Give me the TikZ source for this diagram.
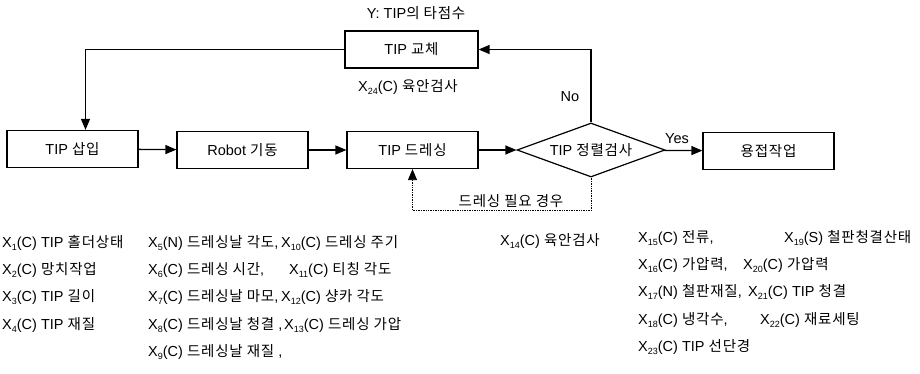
\documentclass[tikz,border=0pt]{standalone}
\usepackage{fontspec}
\setmainfont{Liberation Sans}
\newfontfamily\hangulfont{Noto Sans CJK KR}
\newfontfamily\latinfont{Liberation Sans}
\XeTeXinterchartokenstate=1
\newXeTeXintercharclass\HangulClass
\count255="AC00
\loop
  \XeTeXcharclass\count255=\HangulClass
  \ifnum\count255<"D7A3 \advance\count255 1
\repeat
\XeTeXinterchartoks 0 \HangulClass = {\hangulfont}
\XeTeXinterchartoks 4095 \HangulClass = {\hangulfont}
\XeTeXinterchartoks \HangulClass 0 = {\latinfont}
\XeTeXinterchartoks \HangulClass 4095 = {\latinfont}
\XeTeXinterchartoks \HangulClass \HangulClass = {\kern0.8pt}
\usetikzlibrary{shapes.geometric,arrows.meta}
\newcommand\Xs[1]{X\raisebox{-0.45ex}{\fontsize{9}{9}\selectfont #1}}
\begin{document}
\begin{tikzpicture}[x=1pt,y=-1pt,
  font=\fontsize{14.5}{16}\selectfont,
  box/.style={draw, line width=1.2pt, minimum width=131pt, minimum height=37pt, inner sep=0pt},
  arr/.style={line width=1.3pt, -{Triangle[length=11pt,width=9pt]}},
  darr/.style={densely dotted, line width=0.7pt, -{Triangle[length=11pt,width=9pt]}},
  lbl/.style={anchor=west, inner sep=0pt}]
\useasboundingbox (0,0) rectangle (920,374);

% title and side texts
\node[inner sep=0pt] (title) at (416,13) {Y: TIP의 타점수};
\node[box, minimum width=133pt] (chg) at (411.5,49.5) {TIP 교체};
\node[inner sep=0pt] (x24) at (408,87) {\Xs{24}(C) 육안검사};

% main row
\node[box] (ins) at (72.5,149) {TIP 삽입};
\node[box] (rob) at (242.5,150) {Robot 기동};
\node[box] (drs) at (412.5,150) {TIP 드레싱};
\node[draw, diamond, line width=1.2pt, minimum width=148pt, minimum height=54pt,
      aspect=2.74, inner sep=0pt] (chk) at (591,150) {TIP 정렬검사};
\node[box] (weld) at (768.5,151) {용접작업};

% connectors
\draw[arr] (ins) -- (rob);
\draw[arr] (rob) -- (drs);
\draw[arr] (drs) -- (chk);
\draw[arr] (chk) -- (weld);
\node[inner sep=0pt] (yes) at (677,139) {Yes};
\draw[arr] (chk.north) |- (chg.east);
\node[inner sep=0pt] (no) at (570,97) {No};
\draw[arr] (chg.west) -| ([xshift=13pt]ins.north);
\draw[darr] (chk.south) -- ++(0,33) -| (drs.south);
\node[inner sep=0pt] (need) at (511,201) {드레싱 필요 경우};

% variable lists
\node[lbl] (a1) at (2,243) {\Xs{1}(C) TIP 홀더상태};
\node[lbl] (a2) at (2,270) {\Xs{2}(C) 망치작업};
\node[lbl] (a3) at (2,297) {\Xs{3}(C) TIP 길이};
\node[lbl] (a4) at (2,325) {\Xs{4}(C) TIP 재질};

\node[lbl] (b5) at (148,243) {\Xs{5}(N) 드레싱날 각도,};
\node[lbl] (b6) at (148,270) {\Xs{6}(C) 드레싱 시간,};
\node[lbl] (b7) at (148,297) {\Xs{7}(C) 드레싱날 마모,};
\node[lbl] (b8) at (148,325) {\Xs{8}(C) 드레싱날 청결 ,};
\node[lbl] (b9) at (148,352) {\Xs{9}(C) 드레싱날 재질 ,};
\node[lbl] (c10) at (281,243) {\Xs{10}(C) 드레싱 주기};
\node[lbl] (c11) at (289,270) {\Xs{11}(C) 티칭 각도};
\node[lbl] (c12) at (281,297) {\Xs{12}(C) 샹카 각도};
\node[lbl] (c13) at (284,325) {\Xs{13}(C) 드레싱 가압};
\node[lbl] (d14) at (500,241) {\Xs{14}(C) 육안검사};

\node[lbl] (e15) at (638,238) {\Xs{15}(C) 전류,};
\node[lbl] (e16) at (638,265) {\Xs{16}(C) 가압력,};
\node[lbl] (e17) at (638,292) {\Xs{17}(N) 철판재질,};
\node[lbl] (e18) at (638,320) {\Xs{18}(C) 냉각수,};
\node[lbl] (e23) at (638,347) {\Xs{23}(C) TIP 선단경};
\node[lbl] (f19) at (784,238) {\Xs{19}(S) 철판청결산태};
\node[lbl] (f20) at (743,265) {\Xs{20}(C) 가압력};
\node[lbl] (f21) at (748,292) {\Xs{21}(C) TIP 청결};
\node[lbl] (f22) at (760,320) {\Xs{22}(C) 재료세팅};
\end{tikzpicture}
\end{document}
